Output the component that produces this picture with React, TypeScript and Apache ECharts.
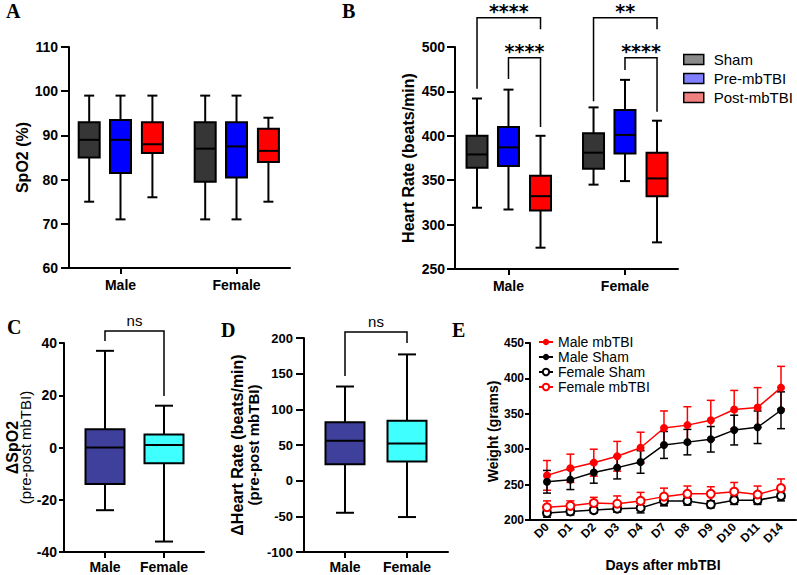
import React, { useEffect, useRef } from 'react';
import * as echarts from 'echarts';

const groups = ['Male', 'Female'];
const conditions = ['Sham', 'Pre-mbTBI', 'Post-mbTBI'];
// box stats per group: [min, Q1, median, Q3, max]
const spo2Sham = [[75, 85, 89, 93, 99], [71, 79.5, 87, 93, 99]];
const spo2Pre = [[71, 81.5, 89, 93.5, 99], [71, 80.5, 87.5, 93, 99]];
const spo2Post = [[76, 86, 88, 93, 99], [75, 84, 86.5, 91.5, 94]];
const hrSham = [[319, 364, 379, 400, 442], [345, 363, 381, 403, 432]];
const hrPre = [[317, 366, 387, 410, 452], [349, 380, 401, 429, 463]];
const hrPost = [[274, 316, 332, 355, 400], [280, 332, 352, 381, 417]];
const deltaSpo2 = [[-24, -14, 0, 7, 37], [-36, -6, 1, 5, 16]];
const deltaHr = [[-45, 23, 56, 82, 132], [-51, 27, 52, 84, 177]];

// significance brackets: [group, fromCondition, toCondition, top, leftEnd, rightEnd]
const hrSig = [
  [0, 0, 2, 533, 453, 520],
  [0, 1, 2, 488, 464, 410],
  [1, 0, 2, 533, 439, 520],
  [1, 1, 2, 488, 474, 427],
];
const hrSigLabels = ['****', '****', '**', '****'];
// [fromGroup, toGroup, top, leftEnd, rightEnd]
const spo2DeltaSig = [[0, 1, 44.6, 40.8, 19.7]];
const hrDeltaSig = [[0, 1, 208.4, 146.8, 193]];
const deltaSigLabels = ['ns'];

const days = ['D0', 'D1', 'D2', 'D3', 'D4', 'D7', 'D8', 'D9', 'D10', 'D11', 'D14'];
const maleTbiMean = [263, 273, 281, 290, 302, 330, 334, 341, 356, 359, 387];
const maleTbiSd = [21, 20, 19, 21, 22, 24, 26, 28, 27, 28, 30];
const maleShamMean = [254, 257, 267, 274, 282, 306, 310, 314, 327, 331, 355];
const maleShamSd = [16, 14, 15, 16, 16, 19, 18, 18, 21, 23, 26];
const femaleShamMean = [210, 212, 214, 216, 217, 227, 227, 222, 228, 228, 234];
const femaleShamSd = [6, 5, 4, 5, 7, 7, 6, 5, 6, 6, 7];
const femaleTbiMean = [218, 220, 224, 223, 227, 233, 237, 237, 240, 236, 245];
const femaleTbiSd = [9, 7, 8, 11, 12, 12, 11, 10, 13, 12, 13];

const F = 'Liberation Sans';
const condOffsets = [-0.27, 0, 0.275];
const condColors = ['#363636', '#0000ff', '#ff0000'];
const legendColors = ['#8a8a8a', '#8080ff', '#f08080'];
const deltaColors = ['#3f3f9c', '#40ffff'];

function boxRender(fillOf: (i: number) => string, boxW: number, capW: number) {
  return (params: any, api: any) => {
    const x = api.value(0);
    const pts = [1, 2, 3, 4, 5].map((k) => api.coord([x, api.value(k)]));
    const cx = pts[0][0];
    const [lo, q1, md, q3, hi] = pts.map((p: number[]) => p[1]);
    const ls = () => ({ stroke: '#000', lineWidth: 2 });
    return {
      type: 'group',
      children: [
        { type: 'line', shape: { x1: cx, y1: hi, x2: cx, y2: q3 }, style: ls() },
        { type: 'line', shape: { x1: cx, y1: q1, x2: cx, y2: lo }, style: ls() },
        { type: 'line', shape: { x1: cx - capW / 2, y1: hi, x2: cx + capW / 2, y2: hi }, style: ls() },
        { type: 'line', shape: { x1: cx - capW / 2, y1: lo, x2: cx + capW / 2, y2: lo }, style: ls() },
        { type: 'rect', shape: { x: cx - boxW / 2, y: q3, width: boxW, height: q1 - q3 }, style: { fill: fillOf(params.dataIndex), stroke: '#000', lineWidth: 2 } },
        { type: 'line', shape: { x1: cx - boxW / 2, y1: md, x2: cx + boxW / 2, y2: md }, style: ls() },
      ],
    };
  };
}

function boxSeries(name: string, axis: number, stats: number[][], offset: number, fillOf: (i: number) => string, boxW: number, capW: number) {
  return {
    type: 'custom',
    name,
    xAxisIndex: axis,
    yAxisIndex: axis,
    silent: true,
    itemStyle: { color: fillOf(0) },
    data: stats.map((s, i) => [i + offset, ...s]),
    encode: { x: 0, y: [1, 2, 3, 4, 5] },
    renderItem: boxRender(fillOf, boxW, capW),
  };
}

function bracketSeries(axis: number, items: number[][], labels: string[], font: any, gap: number, vAlign: string) {
  return {
    type: 'custom',
    xAxisIndex: axis,
    yAxisIndex: axis,
    silent: true,
    z: 5,
    data: items,
    encode: { x: [0, 1], y: [2, 3, 4] },
    renderItem: (params: any, api: any) => {
      const l0 = api.coord([api.value(0), api.value(3)]);
      const lt = api.coord([api.value(0), api.value(2)]);
      const rt = api.coord([api.value(1), api.value(2)]);
      const r0 = api.coord([api.value(1), api.value(4)]);
      return {
        type: 'group',
        children: [
          { type: 'polyline', shape: { points: [l0, lt, rt, r0] }, style: { stroke: '#000', lineWidth: 1.5, fill: null } },
          {
            type: 'text',
            x: (lt[0] + rt[0]) / 2,
            y: lt[1] - gap,
            style: { text: labels[params.dataIndex], fill: '#000', align: 'center', verticalAlign: vAlign, ...font },
          },
        ],
      };
    },
  };
}

function errorSeries(mean: number[], sd: number[], color: string) {
  return {
    type: 'custom',
    xAxisIndex: 4,
    yAxisIndex: 4,
    silent: true,
    z: 1,
    data: mean.map((m, i) => [i, m - sd[i], m + sd[i]]),
    encode: { x: 0, y: [1, 2] },
    renderItem: (params: any, api: any) => {
      const lo = api.coord([api.value(0), api.value(1)]);
      const hi = api.coord([api.value(0), api.value(2)]);
      const cx = lo[0];
      const st = () => ({ stroke: color, lineWidth: 1.5 });
      return {
        type: 'group',
        children: [
          { type: 'line', shape: { x1: cx, y1: lo[1], x2: cx, y2: hi[1] }, style: st() },
          { type: 'line', shape: { x1: cx - 4, y1: lo[1], x2: cx + 4, y2: lo[1] }, style: st() },
          { type: 'line', shape: { x1: cx - 4, y1: hi[1], x2: cx + 4, y2: hi[1] }, style: st() },
        ],
      };
    },
  };
}

const tickFont = (size: number) => ({ fontFamily: F, fontWeight: 'bold', fontSize: size, color: '#000' });
const axLine = { show: true, onZero: false, lineStyle: { color: '#000', width: 2 } };

function catX(grid: number, min: number, max: number, margin: number, labels: string[], size: number, showTick = true, rotate = 0) {
  return {
    type: 'value',
    gridIndex: grid,
    min,
    max,
    axisLine: axLine,
    splitLine: { show: false },
    axisTick: { show: showTick, customValues: labels.map((_, i) => i), length: 6, lineStyle: { color: '#000', width: 2 } },
    axisLabel: {
      customValues: labels.map((_, i) => i),
      formatter: (v: number) => labels[Math.round(v)] ?? '',
      margin,
      rotate,
      ...tickFont(size),
    },
  };
}

function valY(grid: number, min: number, max: number, interval: number, name: string, nameGap: number, size: number, tickLen: number, margin: number, nameStyle: any) {
  return {
    type: 'value',
    gridIndex: grid,
    min,
    max,
    interval,
    name,
    nameLocation: 'middle',
    nameGap,
    nameTextStyle: nameStyle,
    axisLine: axLine,
    splitLine: { show: false },
    axisTick: { show: true, length: tickLen, lineStyle: { color: '#000', width: 2 } },
    axisLabel: { margin, ...tickFont(size) },
  };
}

export default function App() {
  const ref = useRef<HTMLDivElement>(null);
  useEffect(() => {
    document.body.style.margin = '0';
    const chart = echarts.init(ref.current!, null, { renderer: 'svg' });
    const letter = { fontFamily: 'Liberation Serif', fontWeight: 'bold', fontSize: 20, color: '#000' };
    const titleName = { fontFamily: F, fontWeight: 'bold', fontSize: 16, color: '#000' };
    const starFont = { fontFamily: 'DejaVu Sans', fontWeight: 'bold', fontSize: 19, lineHeight: 14 };
    const nsFont = { fontFamily: F, fontSize: 15 };
    const hrSigItems = hrSig.map(([g, a, b, top, le, re]) => [g + condOffsets[a], g + condOffsets[b], top, le, re]);

    chart.setOption({
      animation: false,
      textStyle: { fontFamily: F },
      title: [
        { text: 'A', left: 6, top: 1, padding: 0, textStyle: letter },
        { text: 'B', left: 342, top: 1, padding: 0, textStyle: letter },
        { text: 'C', left: 7, top: 317, padding: 0, textStyle: letter },
        { text: 'D', left: 221, top: 320, padding: 0, textStyle: letter },
        { text: 'E', left: 452, top: 320, padding: 0, textStyle: letter },
      ],
      legend: [
        {
          data: conditions.map((c, i) => ({ name: c, itemStyle: { color: legendColors[i], borderColor: '#000', borderWidth: 1.5 } })),
          orient: 'vertical',
          left: 678,
          top: 47,
          icon: 'rect',
          itemWidth: 20,
          itemHeight: 10,
          itemGap: 4,
          selectedMode: false,
          formatter: (n: string) => `{g|}${n}`,
          textStyle: { fontFamily: F, fontSize: 15, color: '#000', rich: { g: { width: 5 } } },
        },
        {
          data: ['Male mbTBI', 'Male Sham', 'Female Sham', 'Female mbTBI'],
          orient: 'vertical',
          left: 533,
          top: 330,
          itemWidth: 14,
          itemHeight: 8,
          itemGap: 1,
          selectedMode: false,
          textStyle: { fontFamily: F, fontSize: 14, color: '#000' },
        },
      ],
      grid: [
        { left: 69, top: 47, width: 221, height: 221 },
        { left: 455, top: 47, width: 223, height: 222 },
        { left: 64, top: 343, width: 140, height: 209 },
        { left: 304, top: 338, width: 144, height: 214 },
        { left: 530, top: 343, width: 266, height: 177 },
      ],
      xAxis: [
        catX(0, -0.444, 1.461, 10, groups, 14),
        catX(1, -0.459, 1.455, 10, groups, 14),
        catX(2, -0.695, 1.678, 8, groups, 14),
        catX(3, -0.661, 1.661, 8, groups, 14),
        {
          ...catX(4, -0.726, 10.641, 5, days, 12, false, 45),
          name: 'Days after mbTBI',
          nameLocation: 'middle',
          nameGap: 38,
          nameTextStyle: { fontFamily: F, fontWeight: 'bold', fontSize: 14, color: '#000' },
        },
      ],
      yAxis: [
        valY(0, 60, 110, 10, 'SpO2 (%)', 37, 14, 8, 11, titleName),
        valY(1, 250, 500, 50, 'Heart Rate (beats/min)', 39, 14, 8, 10, titleName),
        valY(2, -40, 40, 20, '{a|ΔSpO2}\n{b|(pre-post mbTBI)}', 29, 14, 5, 7, {
          rich: {
            a: { fontFamily: F, fontWeight: 'bold', fontSize: 16, color: '#000', lineHeight: 13 },
            b: { fontFamily: F, fontSize: 15, color: '#000', lineHeight: 13 },
          },
        }),
        valY(3, -100, 200, 50, '{a|ΔHeart Rate (beats/min)}\n{b|(pre-post mbTBI)}', 43, 13, 8, 11, {
          rich: {
            a: { fontFamily: F, fontWeight: 'bold', fontSize: 16, color: '#000', lineHeight: 16 },
            b: { fontFamily: F, fontWeight: 'bold', fontSize: 15, color: '#000', lineHeight: 16 },
          },
        }),
        valY(4, 200, 450, 50, 'Weight (grams)', 30, 12, 5, 6, { fontFamily: F, fontWeight: 'bold', fontSize: 14, color: '#000' }),
      ],
      series: [
        boxSeries('SpO2 Sham', 0, spo2Sham, condOffsets[0], () => condColors[0], 21, 10),
        boxSeries('SpO2 Pre', 0, spo2Pre, condOffsets[1], () => condColors[1], 21, 10),
        boxSeries('SpO2 Post', 0, spo2Post, condOffsets[2], () => condColors[2], 21, 10),
        boxSeries(conditions[0], 1, hrSham, condOffsets[0], () => condColors[0], 21, 10),
        boxSeries(conditions[1], 1, hrPre, condOffsets[1], () => condColors[1], 21, 10),
        boxSeries(conditions[2], 1, hrPost, condOffsets[2], () => condColors[2], 21, 10),
        bracketSeries(1, hrSigItems, hrSigLabels, starFont, 6.5, 'middle'),
        boxSeries('ΔSpO2', 2, deltaSpo2, 0, (i) => deltaColors[i], 39, 18),
        bracketSeries(2, spo2DeltaSig, deltaSigLabels, nsFont, 3, 'bottom'),
        boxSeries('ΔHeart Rate', 3, deltaHr, 0, (i) => deltaColors[i], 39, 18),
        bracketSeries(3, hrDeltaSig, deltaSigLabels, nsFont, 3, 'bottom'),
        errorSeries(maleTbiMean, maleTbiSd, '#ff0000'),
        errorSeries(femaleTbiMean, femaleTbiSd, '#ff0000'),
        errorSeries(maleShamMean, maleShamSd, '#000000'),
        errorSeries(femaleShamMean, femaleShamSd, '#000000'),
        {
          name: 'Male mbTBI', type: 'line', xAxisIndex: 4, yAxisIndex: 4, z: 3,
          data: maleTbiMean.map((v, i) => [i, v]), symbol: 'circle', symbolSize: 8,
          lineStyle: { color: '#ff0000', width: 1.5 }, itemStyle: { color: '#ff0000' },
        },
        {
          name: 'Male Sham', type: 'line', xAxisIndex: 4, yAxisIndex: 4, z: 3,
          data: maleShamMean.map((v, i) => [i, v]), symbol: 'circle', symbolSize: 8,
          lineStyle: { color: '#000000', width: 1.5 }, itemStyle: { color: '#000000' },
        },
        {
          name: 'Female Sham', type: 'line', xAxisIndex: 4, yAxisIndex: 4, z: 3,
          data: femaleShamMean.map((v, i) => [i, v]), symbol: 'circle', symbolSize: 8,
          lineStyle: { color: '#000000', width: 1.5 }, itemStyle: { color: '#ffffff', borderColor: '#000000', borderWidth: 2 },
        },
        {
          name: 'Female mbTBI', type: 'line', xAxisIndex: 4, yAxisIndex: 4, z: 3,
          data: femaleTbiMean.map((v, i) => [i, v]), symbol: 'circle', symbolSize: 8,
          lineStyle: { color: '#ff0000', width: 1.5 }, itemStyle: { color: '#ffffff', borderColor: '#ff0000', borderWidth: 2 },
        },
      ],
    });
    return () => chart.dispose();
  }, []);
  return <div ref={ref} style={{ width: 797, height: 575 }} />;
}
